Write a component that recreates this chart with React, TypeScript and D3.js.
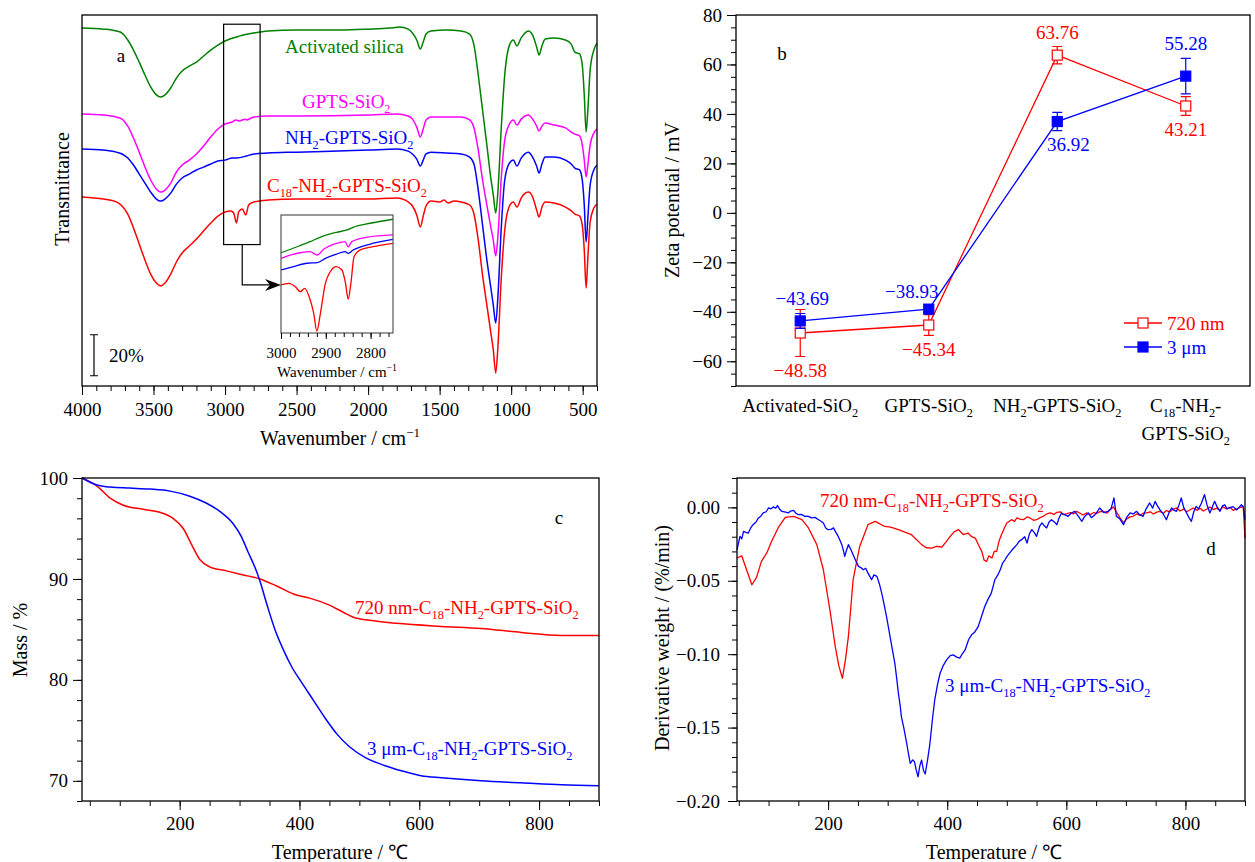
import React, { useEffect, useRef } from "react";
import * as d3 from "d3";

const FONT = '"Liberation Serif", "Times New Roman", Times, serif';
const FS = 19;
const RED = "#ff0000";
const BLUE = "#0000ff";
const GREEN = "#008000";
const MAGENTA = "#ff00ff";

// ---------- (a) FTIR, [wavenumber, transmittance %] (offset, arbitrary) ----------
const ftirActivated = [
  [4000, 174.6], [3850, 174.1], [3760, 173.2], [3720, 172.2], [3680, 168.8], [3640, 163.9],
  [3600, 158.0], [3560, 151.7], [3520, 145.9], [3480, 142.0], [3450, 141.0], [3420, 142.0],
  [3380, 145.4], [3340, 150.2], [3300, 153.7], [3250, 156.1], [3200, 158.0], [3150, 161.0],
  [3100, 163.9], [3050, 166.3], [3000, 168.3], [2900, 170.7], [2800, 172.2], [2700, 173.2],
  [2500, 173.7], [2200, 173.7], [2000, 174.1], [1850, 174.6], [1780, 175.1], [1720, 174.1],
  [1690, 172.2], [1660, 168.8], [1635, 164.4], [1615, 167.8], [1595, 171.7], [1560, 173.2],
  [1450, 173.7], [1350, 173.2], [1290, 171.7], [1260, 166.3], [1230, 151.7], [1200, 134.6],
  [1170, 117.6], [1145, 102.9], [1125, 93.2], [1108, 84.4], [1092, 95.6], [1070, 124.9],
  [1045, 151.7], [1012, 166.3], [985, 168.8], [960, 165.9], [930, 169.8], [880, 173.2],
  [850, 171.2], [822, 165.4], [805, 161.5], [785, 165.9], [762, 169.3], [700, 169.8],
  [620, 168.8], [580, 166.8], [555, 162.9], [522, 162.0], [503, 156.6], [489, 142.0],
  [476, 123.9], [464, 134.6], [448, 154.1], [422, 163.9], [400, 167.3],
];
const ftirGpts = [
  [4000, 132.7], [3850, 132.2], [3760, 131.2], [3720, 130.2], [3680, 126.8], [3640, 121.0],
  [3600, 114.1], [3560, 106.8], [3520, 100.5], [3480, 96.1], [3450, 94.6], [3420, 95.6],
  [3380, 99.0], [3340, 104.4], [3300, 107.8], [3250, 110.2], [3200, 113.2], [3150, 117.1],
  [3100, 121.5], [3050, 125.4], [3000, 127.8], [2950, 128.8], [2925, 129.8], [2900, 129.3],
  [2860, 130.2], [2850, 129.8], [2800, 131.2], [2700, 131.7], [2500, 131.7], [2000, 132.2],
  [1800, 132.7], [1720, 131.7], [1690, 130.2], [1660, 126.3], [1635, 121.5], [1615, 125.4],
  [1595, 129.8], [1560, 131.2], [1450, 131.2], [1350, 131.2], [1290, 129.8], [1260, 125.9],
  [1230, 115.1], [1200, 100.5], [1170, 88.3], [1145, 78.5], [1125, 71.2], [1108, 63.4],
  [1092, 73.7], [1070, 100.5], [1045, 120.0], [1012, 127.8], [985, 129.8], [960, 127.3],
  [930, 130.2], [880, 132.2], [850, 130.2], [822, 126.8], [805, 124.4], [785, 126.8],
  [762, 128.3], [700, 127.3], [620, 125.9], [580, 123.9], [555, 122.9], [522, 122.0],
  [503, 117.6], [489, 110.2], [476, 102.0], [464, 107.8], [448, 117.6], [422, 123.4], [400, 125.4],
];
const ftirNh2 = [
  [4000, 115.6], [3850, 115.1], [3760, 114.1], [3720, 113.2], [3680, 111.2], [3640, 107.8],
  [3600, 103.4], [3560, 99.0], [3520, 94.6], [3480, 91.2], [3450, 90.2], [3420, 91.2],
  [3380, 94.1], [3340, 98.5], [3300, 101.5], [3250, 103.4], [3200, 105.4], [3150, 106.8],
  [3100, 108.3], [3050, 109.8], [3000, 110.2], [2950, 111.2], [2920, 111.2], [2850, 112.2],
  [2800, 113.2], [2700, 113.7], [2500, 114.1], [2000, 115.1], [1800, 115.6], [1720, 114.6],
  [1690, 113.2], [1660, 110.7], [1635, 107.3], [1615, 110.2], [1595, 113.2], [1560, 114.1],
  [1450, 113.7], [1350, 113.2], [1290, 111.7], [1260, 108.3], [1230, 95.6], [1200, 78.5],
  [1170, 61.5], [1145, 49.3], [1125, 39.5], [1108, 30.7], [1092, 44.4], [1070, 76.1],
  [1045, 100.5], [1012, 108.8], [985, 110.2], [960, 107.3], [930, 111.2], [880, 114.1],
  [850, 111.7], [822, 107.3], [805, 103.9], [785, 108.3], [762, 111.7], [700, 111.7],
  [620, 110.2], [580, 108.3], [555, 106.3], [522, 105.4], [503, 100.5], [489, 88.3],
  [476, 70.2], [464, 82.0], [448, 98.0], [422, 105.4], [400, 107.8],
];
const ftirC18 = [
  [4000, 92.2], [3850, 91.2], [3760, 89.8], [3720, 87.8], [3680, 83.9], [3640, 77.1],
  [3600, 69.3], [3560, 61.5], [3520, 54.6], [3480, 50.2], [3450, 48.8], [3420, 50.2],
  [3380, 54.6], [3340, 60.5], [3300, 64.9], [3250, 68.3], [3200, 71.7], [3150, 75.6],
  [3100, 79.5], [3050, 82.9], [3000, 84.9], [2960, 85.4], [2940, 84.4], [2920, 79.5],
  [2905, 84.9], [2880, 86.3], [2855, 83.4], [2835, 88.3], [2800, 89.8], [2700, 90.7],
  [2500, 91.2], [2000, 91.2], [1800, 91.7], [1720, 89.8], [1690, 87.8], [1660, 83.4],
  [1635, 77.6], [1615, 82.9], [1595, 87.8], [1560, 90.2], [1500, 89.8], [1470, 90.7],
  [1440, 89.3], [1400, 90.2], [1350, 89.8], [1290, 88.3], [1260, 83.9], [1230, 71.2],
  [1200, 54.1], [1170, 39.5], [1145, 27.3], [1125, 17.6], [1108, 6.3], [1092, 20.0],
  [1070, 51.7], [1045, 76.1], [1012, 87.8], [985, 89.8], [960, 87.3], [930, 91.7],
  [880, 94.6], [850, 92.2], [822, 85.9], [805, 82.4], [785, 87.3], [762, 89.8],
  [700, 89.3], [620, 87.3], [580, 85.4], [555, 83.9], [522, 82.9], [503, 78.5],
  [489, 66.3], [476, 47.8], [464, 62.4], [448, 80.0], [422, 86.8], [400, 88.8],
];
const ftirLabels = ["Activated silica", "GPTS-SiO_{2}", "NH_{2}-GPTS-SiO_{2}", "C_{18}-NH_{2}-GPTS-SiO_{2}"];
const ftirMajorTicks = [4000, 3500, 3000, 2500, 2000, 1500, 1000, 500];

// inset 3000-2750 cm-1, arbitrary units
const insetActivated = [
  [3000, 68.0], [2964, 73.1], [2935, 77.4], [2913, 81.1], [2876, 85.3], [2853, 87.3],
  [2839, 89.6], [2801, 93.0], [2750, 96.4],
];
const insetGpts = [
  [3000, 63.3], [2979, 66.1], [2957, 68.0], [2935, 68.9], [2919, 66.1], [2905, 70.9],
  [2876, 76.0], [2857, 77.4], [2850, 73.1], [2842, 77.4], [2809, 81.1], [2750, 83.1],
];
const insetNh2 = [
  [3000, 53.4], [2972, 56.2], [2942, 59.1], [2919, 59.6], [2901, 63.3], [2876, 66.9],
  [2857, 68.9], [2850, 67.5], [2839, 70.3], [2801, 75.4], [2750, 79.4],
];
const insetC18 = [
  [3000, 40.7], [2983, 42.1], [2968, 39.2], [2957, 35.0], [2947, 37.9], [2936, 29.4],
  [2927, 16.7], [2920, 1.7], [2912, 16.7], [2901, 42.1], [2890, 51.9], [2877, 56.2],
  [2864, 53.4], [2856, 42.1], [2850, 28.8], [2844, 42.1], [2837, 64.7], [2824, 70.3],
  [2787, 73.7], [2750, 76.0],
];
const insetMajorTicks = [3000, 2900, 2800];

// ---------- (b) zeta potential ----------
const zetaCategories = [
  ["Activated-SiO_{2}"],
  ["GPTS-SiO_{2}"],
  ["NH_{2}-GPTS-SiO_{2}"],
  ["C_{18}-NH_{2}-", "GPTS-SiO_{2}"],
];
const zeta720 = [-48.58, -45.34, 63.76, 43.21];
const zeta720Err = [9.5, 4.2, 3.5, 3.8];
const zeta3um = [-43.69, -38.93, 36.92, 55.28];
const zeta3umErr = [3.0, 1.7, 3.7, 7.2];
const zetaLabels720 = ["\u221248.58", "\u221245.34", "63.76", "43.21"];
const zetaLabels3um = ["\u221243.69", "\u221238.93", "36.92", "55.28"];

// ---------- (c) TGA, [temperature, mass %] ----------
const tga720 = [
  [37, 100], [62, 99.2], [84, 98.0], [106, 97.3], [139, 96.9], [167, 96.6], [189, 96.0],
  [206, 95.0], [220, 93.4], [234, 91.9], [250, 91.2], [278, 90.8], [306, 90.4], [334, 90.0],
  [362, 89.3], [395, 88.4], [417, 88.1], [450, 87.4], [473, 86.7], [490, 86.2], [517, 85.9],
  [562, 85.6], [637, 85.3], [703, 85.1], [770, 84.7], [837, 84.4], [900, 84.4],
];
const tga3um = [
  [37, 100], [62, 99.3], [84, 99.1], [117, 99.0], [150, 98.9], [184, 98.7], [217, 98.2],
  [245, 97.5], [267, 96.7], [289, 95.5], [303, 94.2], [314, 92.7], [326, 91.1], [334, 89.8],
  [345, 87.6], [359, 85.0], [373, 83.0], [387, 81.3], [403, 79.8], [423, 78.0], [443, 76.2],
  [463, 74.6], [483, 73.4], [510, 72.3], [543, 71.5], [570, 71.0], [603, 70.5], [637, 70.3],
  [703, 70.0], [770, 69.8], [837, 69.6], [900, 69.5],
];

// ---------- (d) DTG, [temperature, %/min] ----------
const dtg720 = [
  [47, -0.0345], [55, -0.033], [63, -0.0425], [72, -0.0527], [80, -0.0475], [88, -0.0368],
  [97, -0.031], [105, -0.0232], [116, -0.014], [128, -0.0068], [142, -0.0061], [156, -0.0084],
  [167, -0.014], [181, -0.0254], [192, -0.0425], [203, -0.0698], [212, -0.0948], [218, -0.108],
  [224, -0.1164], [229, -0.104], [234, -0.088], [242, -0.0493], [253, -0.0266], [267, -0.0118],
  [279, -0.0095], [295, -0.013], [305, -0.0135], [318, -0.0152], [330, -0.017], [340, -0.0186],
  [357, -0.0254], [365, -0.0275], [374, -0.0277], [382, -0.0265], [391, -0.027], [398, -0.0235],
  [405, -0.0198], [412, -0.0165], [419, -0.0152], [427, -0.0185], [435, -0.0175], [441, -0.02],
  [447, -0.0209], [453, -0.026], [458, -0.03], [462, -0.036], [466, -0.0368], [470, -0.033],
  [475, -0.0345], [479, -0.03], [483, -0.03], [487, -0.023], [491, -0.0186], [496, -0.014],
  [500, -0.0106], [508, -0.0084], [513, -0.0095], [517, -0.0072], [522, -0.008], [528, -0.0084],
  [534, -0.0065], [539, -0.0072], [545, -0.0088], [550, -0.0084], [556, -0.007], [561, -0.0061],
  [567, -0.0045], [573, -0.0038], [579, -0.0048], [584, -0.0034], [590, -0.003], [595, -0.005],
  [601, -0.0043], [607, -0.0035], [612, -0.0045], [617, -0.0027], [623, -0.004], [628, -0.0052],
  [634, -0.0038], [640, -0.005], [646, -0.0035], [651, -0.0042], [656, -0.003], [662, -0.0027],
  [668, -0.004], [673, -0.0018], [679, 0.0003], [685, -0.0038], [690, -0.007], [696, -0.0106],
  [701, -0.008], [707, -0.0065], [712, -0.0061], [718, -0.0045], [724, -0.0055], [729, -0.004],
  [735, -0.0038], [741, -0.003], [746, -0.0045], [752, -0.0032], [757, -0.0027], [763, -0.004],
  [768, -0.0022], [774, -0.003], [779, -0.0015], [785, -0.0004], [791, -0.0025], [797, -0.0012],
  [802, -0.003], [808, -0.0016], [813, -0.0005], [819, -0.002], [825, -0.0008], [830, -0.0025],
  [836, -0.0011], [841, 0.0002], [847, -0.0015], [852, -0.0005], [858, -0.002], [863, 0.0003],
  [869, -0.001], [875, 0.0], [880, -0.002], [886, -0.0011], [891, -0.0002], [897, 0.0007],
  [900, -0.021],
];
const dtg3um = [
  [47, -0.0289], [52, -0.0198], [55, -0.0215], [58, -0.0164], [62, -0.017], [66, -0.0175],
  [70, -0.014], [74, -0.0118], [79, -0.01], [83, -0.0072], [87, -0.006], [91, -0.0038],
  [96, -0.003], [100, -0.0004], [104, -0.001], [108, 0.0003], [112, -0.0005], [115, 0.0012],
  [119, -0.0015], [122, -0.0027], [127, -0.003], [133, -0.0038], [137, -0.0025], [142, -0.002],
  [146, -0.004], [150, -0.005], [155, -0.0048], [161, -0.0061], [166, -0.006], [172, -0.0072],
  [178, -0.0068], [184, -0.0084], [188, -0.0095], [192, -0.0106], [196, -0.014], [200, -0.0152],
  [205, -0.015], [209, -0.014], [213, -0.017], [217, -0.0198], [220, -0.0225], [223, -0.0254],
  [226, -0.03], [228, -0.0334], [231, -0.029], [234, -0.0254], [238, -0.0285], [242, -0.0323],
  [246, -0.036], [251, -0.0402], [255, -0.041], [259, -0.0425], [263, -0.0415], [267, -0.0448],
  [270, -0.047], [273, -0.0493], [277, -0.046], [282, -0.047], [286, -0.052], [290, -0.0584],
  [294, -0.066], [298, -0.0743], [301, -0.081], [304, -0.088], [308, -0.097], [312, -0.1061],
  [315, -0.116], [318, -0.1266], [321, -0.135], [323, -0.1426], [327, -0.15], [332, -0.1607],
  [335, -0.168], [338, -0.1744], [342, -0.172], [345, -0.1733], [348, -0.179], [351, -0.1835],
  [354, -0.176], [357, -0.1721], [360, -0.179], [363, -0.1816], [367, -0.172], [371, -0.1607],
  [375, -0.145], [379, -0.1312], [384, -0.12], [388, -0.113], [393, -0.108], [399, -0.1039],
  [405, -0.101], [410, -0.1005], [416, -0.102], [421, -0.1027], [425, -0.1], [430, -0.0971],
  [436, -0.09], [441, -0.0868], [446, -0.085], [452, -0.0812], [457, -0.075], [463, -0.0675],
  [468, -0.063], [474, -0.0584], [480, -0.0493], [485, -0.046], [489, -0.0425], [493, -0.038],
  [497, -0.0357], [501, -0.033], [505, -0.031], [511, -0.028], [517, -0.0254], [521, -0.023],
  [525, -0.022], [530, -0.02], [534, -0.0243], [538, -0.018], [542, -0.0152], [546, -0.017],
  [550, -0.0198], [555, -0.013], [559, -0.0106], [563, -0.0125], [567, -0.014], [571, -0.01],
  [575, -0.0084], [580, -0.01], [584, -0.0118], [588, -0.007], [592, -0.0038], [597, -0.005],
  [603, -0.0061], [608, -0.004], [614, -0.0027], [620, -0.006], [626, -0.0095], [631, -0.006],
  [637, -0.0038], [642, -0.007], [648, -0.005], [652, -0.003], [656, -0.0004], [663, -0.0035],
  [670, -0.0027], [675, -0.001], [680, 0.0064], [684, -0.0061], [690, -0.008], [696, -0.0118],
  [701, -0.007], [707, -0.0038], [712, -0.0045], [718, -0.0027], [723, -0.005], [729, -0.0061],
  [734, -0.001], [740, 0.003], [745, -0.0005], [749, 0.0041], [753, 0.001], [757, -0.0016],
  [762, -0.004], [768, -0.0084], [773, -0.003], [777, -0.0004], [781, -0.002], [785, -0.0027],
  [789, 0.0015], [793, 0.0064], [797, 0.0], [802, -0.0038], [806, -0.007], [810, -0.0095],
  [814, -0.003], [818, 0.0007], [822, -0.001], [827, 0.003], [832, 0.0087], [836, 0.002],
  [841, -0.0038], [845, 0.0], [849, 0.0041], [853, 0.0005], [858, -0.0027], [862, 0.001],
  [866, 0.0018], [870, -0.001], [874, -0.0004], [880, 0.0005], [886, -0.0016], [890, 0.0],
  [894, 0.0018], [897, 0.0005], [900, -0.0084],
];

// text with _{sub} and ^{sup} markup
const addText = (g: any, x: number, y: number, str: string, o: any = {}) => {
  const fs = o.fs || FS;
  const t = g
    .append("text")
    .attr("font-family", FONT)
    .attr("font-size", fs)
    .attr("fill", o.fill || "#000")
    .attr("text-anchor", o.anchor || "start");
  if (o.rotate) {
    t.attr("transform", `translate(${x},${y}) rotate(${o.rotate})`).attr("x", 0).attr("y", fs * 0.35);
  } else {
    t.attr("x", x).attr("y", y + fs * 0.35);
  }
  const parts = str.split(/(_\{[^}]*\}|\^\{[^}]*\})/).filter((s) => s.length);
  let shift = 0;
  parts.forEach((p) => {
    let target = 0;
    let txt = p;
    let size = fs;
    if (p.startsWith("_{")) {
      target = fs * 0.28;
      txt = p.slice(2, -1);
      size = fs * 0.65;
    } else if (p.startsWith("^{")) {
      target = -fs * 0.42;
      txt = p.slice(2, -1);
      size = fs * 0.65;
    }
    t.append("tspan").attr("dy", target - shift).attr("font-size", size).text(txt);
    shift = target;
  });
  return t;
};

const drawAxis = (g: any, axis: any, transform: string, fs = FS) => {
  const a = g.append("g").attr("transform", transform).call(axis);
  a.attr("font-family", FONT).attr("font-size", fs);
  a.select(".domain").remove();
  a.selectAll("line").attr("stroke", "#000").attr("stroke-width", 1);
  a.selectAll("text").attr("fill", "#000");
  return a;
};

const frame = (g: any, x0: number, y0: number, x1: number, y1: number) => {
  g.append("rect")
    .attr("x", x0)
    .attr("y", y0)
    .attr("width", x1 - x0)
    .attr("height", y1 - y0)
    .attr("fill", "none")
    .attr("stroke", "#000")
    .attr("stroke-width", 1.3);
};

const range = (a: number, b: number, step: number) => d3.range(a, b + step / 2, step).map((v) => +v.toFixed(4));

const App = () => {
  const ref = useRef<SVGSVGElement>(null);

  useEffect(() => {
    const svg = d3.select(ref.current);
    svg.selectAll("*").remove();

    // ================= panel a =================
    const ga = svg.append("g");
    const xA = d3.scaleLinear().domain([4000, 400]).range([82, 597]);
    const yA = d3.scaleLinear().domain([0, 181]).range([386, 15]);
    const lineA = d3
      .line<number[]>()
      .x((d) => xA(d[0]))
      .y((d) => yA(d[1]))
      .curve(d3.curveMonotoneX);

    const ftirSeries = [
      { data: ftirActivated, inset: insetActivated, color: GREEN, lx: 285, ly: 46 },
      { data: ftirGpts, inset: insetGpts, color: MAGENTA, lx: 302, ly: 101 },
      { data: ftirNh2, inset: insetNh2, color: BLUE, lx: 285, ly: 137 },
      { data: ftirC18, inset: insetC18, color: RED, lx: 267, ly: 185 },
    ];
    ftirSeries.forEach((s, i) => {
      ga.append("path")
        .attr("d", lineA(s.data as any))
        .attr("fill", "none")
        .attr("stroke", s.color)
        .attr("stroke-width", 1.5);
      addText(ga, s.lx, s.ly, ftirLabels[i], { fill: s.color });
    });
    frame(ga, 82, 15, 597, 386);
    drawAxis(
      ga,
      d3.axisBottom(xA).tickValues(range(400, 4000, 100)).tickSize(5).tickFormat(() => ""),
      "translate(0,386)"
    );
    drawAxis(
      ga,
      d3.axisBottom(xA).tickValues(ftirMajorTicks).tickSize(9).tickPadding(8).tickFormat(d3.format("d")),
      "translate(0,386)"
    );
    addText(ga, 340, 438, "Wavenumber / cm^{\u22121}", { anchor: "middle", fs: 20 });
    addText(ga, 62, 189, "Transmittance", { anchor: "middle", fs: 20, rotate: -90 });
    addText(ga, 121, 55, "a", { anchor: "middle" });

    // scale bar 20%
    const sbx = 94;
    ga.append("path")
      .attr("d", `M${sbx - 4},${yA(5)}H${sbx + 4}M${sbx},${yA(5)}V${yA(25)}M${sbx - 4},${yA(25)}H${sbx + 4}`)
      .attr("stroke", "#000")
      .attr("stroke-width", 1.2)
      .attr("fill", "none");
    addText(ga, 109, yA(15), "20%");

    // zoom box + arrow
    ga.append("rect")
      .attr("x", xA(3010))
      .attr("y", yA(176.5))
      .attr("width", xA(2755) - xA(3010))
      .attr("height", yA(69) - yA(176.5))
      .attr("fill", "none")
      .attr("stroke", "#000")
      .attr("stroke-width", 1.2);

    // inset
    const xI = d3.scaleLinear().domain([3000, 2750]).range([281, 393]);
    const yI = d3.scaleLinear().domain([0, 100]).range([333, 215]);
    const ay = yA(49.3);
    ga.append("path")
      .attr("d", `M${xA(2880)},${yA(69)}V${ay}H${xI(3000) - 10}`)
      .attr("stroke", "#000")
      .attr("stroke-width", 1.2)
      .attr("fill", "none");
    ga.append("path")
      .attr("d", `M${xI(3000)},${ay}L${xI(3000) - 16},${ay - 6}L${xI(3000) - 11},${ay}L${xI(3000) - 16},${ay + 6}Z`)
      .attr("fill", "#000");
    const lineI = d3
      .line<number[]>()
      .x((d) => xI(d[0]))
      .y((d) => yI(d[1]))
      .curve(d3.curveMonotoneX);
    ftirSeries.forEach((s) => {
      ga.append("path")
        .attr("d", lineI(s.inset as any))
        .attr("fill", "none")
        .attr("stroke", s.color)
        .attr("stroke-width", 1.3);
    });
    ga.append("rect")
      .attr("x", 281)
      .attr("y", 215)
      .attr("width", 112)
      .attr("height", 118)
      .attr("fill", "none")
      .attr("stroke", "#555")
      .attr("stroke-width", 1.2);
    drawAxis(
      ga,
      d3.axisBottom(xI).tickValues(range(2760, 3000, 20)).tickSize(4).tickFormat(() => ""),
      "translate(0,333)",
      15
    );
    drawAxis(
      ga,
      d3.axisBottom(xI).tickValues(insetMajorTicks).tickSize(6).tickPadding(8).tickFormat(d3.format("d")),
      "translate(0,333)",
      15
    );
    addText(ga, 337, 372, "Wavenumber / cm^{\u22121}", { anchor: "middle", fs: 15 });

    // ================= panel b =================
    const gb = svg.append("g");
    const xB = d3
      .scalePoint<number>()
      .domain(zetaCategories.map((_, i) => i))
      .range([736, 1250])
      .padding(0.5);
    const yB = d3.scaleLinear().domain([-70, 80]).range([386, 15]);
    const lineB = d3
      .line<number>()
      .x((_, i) => xB(i) as number)
      .y((d) => yB(d));

    const zetaSeries = [
      { vals: zeta720, err: zeta720Err, color: RED, open: true, labels: zetaLabels720, off: [[0, 37], [0, 24], [0, -23], [0, 23]] },
      { vals: zeta3um, err: zeta3umErr, color: BLUE, open: false, labels: zetaLabels3um, off: [[2, -23], [-17, -18], [11, 23], [0, -33]] },
    ];
    zetaSeries.forEach((s) => {
      gb.append("path")
        .attr("d", lineB(s.vals))
        .attr("fill", "none")
        .attr("stroke", s.color)
        .attr("stroke-width", 1.3);
    });
    zetaSeries.forEach((s) => {
      s.vals.forEach((v, i) => {
        const cx = xB(i) as number;
        const y0 = yB(v - s.err[i]);
        const y1 = yB(v + s.err[i]);
        gb.append("path")
          .attr("d", `M${cx},${y0}V${y1}M${cx - 5},${y0}H${cx + 5}M${cx - 5},${y1}H${cx + 5}`)
          .attr("stroke", s.color)
          .attr("stroke-width", 1.2)
          .attr("fill", "none");
        gb.append("rect")
          .attr("x", cx - 5)
          .attr("y", yB(v) - 5)
          .attr("width", 10)
          .attr("height", 10)
          .attr("fill", s.open ? "#fff" : s.color)
          .attr("stroke", s.color)
          .attr("stroke-width", 1.2);
        addText(gb, cx + s.off[i][0], yB(v) + s.off[i][1], s.labels[i], { anchor: "middle", fill: s.color });
      });
    });
    frame(gb, 736, 15, 1250, 386);
    drawAxis(
      gb,
      d3.axisLeft(yB).tickValues(range(-70, 80, 5)).tickSize(5).tickFormat(() => ""),
      "translate(736,0)"
    );
    drawAxis(
      gb,
      d3.axisLeft(yB).tickValues(range(-60, 80, 20)).tickSize(9).tickPadding(5).tickFormat(d3.format("d")),
      "translate(736,0)"
    );
    zetaCategories.forEach((lines, i) => {
      lines.forEach((ln, j) => {
        addText(gb, xB(i) as number, 405 + j * 28, ln, { anchor: "middle" });
      });
    });
    addText(gb, 672, 200, "Zeta potential / mV", { anchor: "middle", fs: 20, rotate: -90 });
    addText(gb, 782, 53, "b", { anchor: "middle" });
    // legend
    [
      { color: RED, open: true, text: "720 nm", y: 323 },
      { color: BLUE, open: false, text: "3 \u03bcm", y: 347 },
    ].forEach((l) => {
      gb.append("line")
        .attr("x1", 1124)
        .attr("x2", 1162)
        .attr("y1", l.y)
        .attr("y2", l.y)
        .attr("stroke", l.color)
        .attr("stroke-width", 1.3);
      gb.append("rect")
        .attr("x", 1138)
        .attr("y", l.y - 5)
        .attr("width", 10)
        .attr("height", 10)
        .attr("fill", l.open ? "#fff" : l.color)
        .attr("stroke", l.color)
        .attr("stroke-width", 1.2);
      addText(gb, 1167, l.y, l.text, { fill: l.color });
    });

    // ================= panel c =================
    const gc = svg.append("g");
    const xC = d3.scaleLinear().domain([37, 900]).range([82, 599]);
    const yC = d3.scaleLinear().domain([68, 100]).range([801, 478]);
    const lineC = d3
      .line<number[]>()
      .x((d) => xC(d[0]))
      .y((d) => yC(d[1]))
      .curve(d3.curveMonotoneX);
    [
      { data: tga720, color: RED },
      { data: tga3um, color: BLUE },
    ].forEach((s) => {
      gc.append("path")
        .attr("d", lineC(s.data as any))
        .attr("fill", "none")
        .attr("stroke", s.color)
        .attr("stroke-width", 1.5);
    });
    frame(gc, 82, 478, 599, 801);
    drawAxis(gc, d3.axisBottom(xC).tickValues(range(50, 900, 50)).tickSize(5).tickFormat(() => ""), "translate(0,801)");
    drawAxis(
      gc,
      d3.axisBottom(xC).tickValues([200, 400, 600, 800]).tickSize(9).tickPadding(7).tickFormat(d3.format("d")),
      "translate(0,801)"
    );
    drawAxis(gc, d3.axisLeft(yC).tickValues(range(68, 100, 2)).tickSize(5).tickFormat(() => ""), "translate(82,0)");
    drawAxis(
      gc,
      d3.axisLeft(yC).tickValues([70, 80, 90, 100]).tickSize(9).tickPadding(5).tickFormat(d3.format("d")),
      "translate(82,0)"
    );
    addText(gc, 340, 852, "Temperature / \u2103", { anchor: "middle", fs: 20 });
    addText(gc, 20, 640, "Mass / %", { anchor: "middle", fs: 20, rotate: -90 });
    addText(gc, 355, 607, "720 nm-C_{18}-NH_{2}-GPTS-SiO_{2}", { fill: RED });
    addText(gc, 367, 748, "3 \u03bcm-C_{18}-NH_{2}-GPTS-SiO_{2}", { fill: BLUE });
    addText(gc, 559, 517, "c", { anchor: "middle" });

    // ================= panel d =================
    const gd = svg.append("g");
    const xD = d3.scaleLinear().domain([47, 900]).range([737, 1245]);
    const yD = d3.scaleLinear().domain([-0.2, 0.02]).range([801, 478]);
    const lineD = d3
      .line<number[]>()
      .x((d) => xD(d[0]))
      .y((d) => yD(d[1]));
    [
      { data: dtg720, color: RED },
      { data: dtg3um, color: BLUE },
    ].forEach((s) => {
      gd.append("path")
        .attr("d", lineD(s.data as any))
        .attr("fill", "none")
        .attr("stroke", s.color)
        .attr("stroke-width", 1.3)
        .attr("stroke-linejoin", "round");
    });
    frame(gd, 737, 478, 1245, 801);
    drawAxis(gd, d3.axisBottom(xD).tickValues(range(50, 900, 50)).tickSize(5).tickFormat(() => ""), "translate(0,801)");
    drawAxis(
      gd,
      d3.axisBottom(xD).tickValues([200, 400, 600, 800]).tickSize(9).tickPadding(7).tickFormat(d3.format("d")),
      "translate(0,801)"
    );
    drawAxis(gd, d3.axisLeft(yD).tickValues(range(-0.2, 0.02, 0.01)).tickSize(5).tickFormat(() => ""), "translate(737,0)");
    drawAxis(
      gd,
      d3.axisLeft(yD).tickValues([-0.2, -0.15, -0.1, -0.05, 0]).tickSize(9).tickPadding(8).tickFormat(d3.format(".2f")),
      "translate(737,0)"
    );
    addText(gd, 994, 852, "Temperature / \u2103", { anchor: "middle", fs: 20 });
    addText(gd, 662, 638, "Derivative weight / (%/min)", { anchor: "middle", fs: 20, rotate: -90 });
    addText(gd, 820, 500, "720 nm-C_{18}-NH_{2}-GPTS-SiO_{2}", { fill: RED });
    addText(gd, 945, 685, "3 \u03bcm-C_{18}-NH_{2}-GPTS-SiO_{2}", { fill: BLUE });
    addText(gd, 1211, 548, "d", { anchor: "middle" });
  }, []);

  return (
    <svg
      ref={ref}
      width={1255}
      height={862}
      style={{ position: "absolute", left: 0, top: 0, background: "#fff", display: "block" }}
    />
  );
};

export default App;
